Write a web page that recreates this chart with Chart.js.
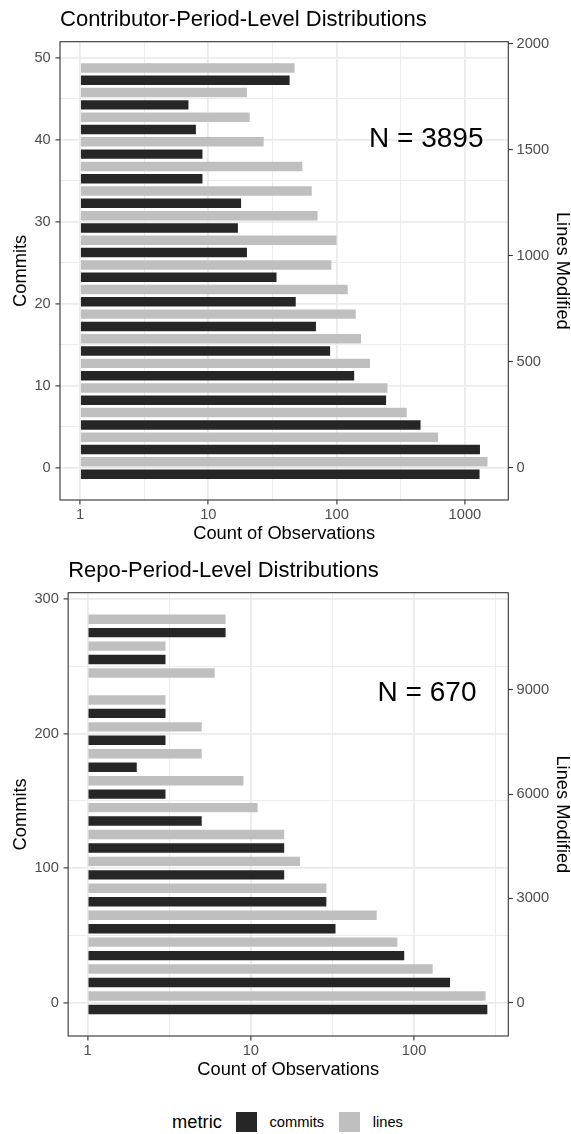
<!DOCTYPE html>
<html lang="en">
<head>
<meta charset="utf-8">
<title>Contributor / Repo Period-Level Distributions</title>
<script src="https://cdn.jsdelivr.net/npm/chart.js@4.4.1/dist/chart.umd.min.js"></script>
<style>
  html, body { margin: 0; padding: 0; background: #ffffff; }
  #page { position: relative; width: 571px; height: 1134px; overflow: hidden;
          font-family: "Liberation Sans", Arial, Helvetica, sans-serif; }
  #topChart { position: absolute; left: 0; top: 0; }
  #bottomChart { position: absolute; left: 0; top: 551px; }
  #legend { position: absolute; left: 2px; top: 1104px; width: 571px; height: 36px;
            display: flex; justify-content: center; align-items: center; }
  #legend .title { font-size: 18.3px; color: #000; margin-right: 14px; }
  #legend .key { width: 20.7px; height: 20.7px; margin-right: 13px; }
  #legend .label { font-size: 14.67px; color: #000; margin-right: 15px; }
  #legend .label:last-child { margin-right: 0; }
</style>
</head>
<body>
<div id="page">
  <canvas id="topChart" width="571" height="551"></canvas>
  <canvas id="bottomChart" width="571" height="536"></canvas>
  <div id="legend"></div>
</div>
<script>
const FONT = '"Liberation Sans", Arial, Helvetica, sans-serif';
const COMMITS_COLOR = '#262626';
const LINES_COLOR = '#BFBFBF';
const TICK_TEXT = '#4D4D4D';
const BORDER = '#333333';
const GRID = '#EBEBEB';
const LINES_PER_COMMIT = 38.7;   // secondary axis: Lines Modified = Commits * factor

const legendTitle = 'metric';
const metricNames = ['commits', 'lines'];

// contributor-period panel, bins of 3 commits
const contribTitle = 'Contributor-Period-Level Distributions';
const contribN = 3895;
const contribBins = [0, 3, 6, 9, 12, 15, 18, 21, 24, 27, 30, 33, 36, 39, 42, 45, 48];
const contribCommits = [1300, 1310, 451, 243, 137, 89, 69, 48, 34, 20, 17, 18, 9, 9, 8, 7, 43];
const contribLines = [1500, 617, 352, 249, 182, 155, 141, 122, 91, 100, 71, 64, 54, 27, 21, 20, 47];
const contribCommitTicks = [0, 10, 20, 30, 40, 50];
const contribCommitMinor = [5, 15, 25, 35, 45];
const contribLineTicks = [0, 500, 1000, 1500, 2000];
const contribCountTicks = [1, 10, 100, 1000];
const contribCountMinor = [3.162, 31.62, 316.2];

// repo-period panel, bins of 20 commits
const repoTitle = 'Repo-Period-Level Distributions';
const repoN = 670;
const repoBins = [0, 20, 40, 60, 80, 100, 120, 140, 160, 180, 200, 220, 240, 260, 280];
const repoCommits = [281, 166, 87, 33, 29, 16, 16, 5, 3, 2, 3, 3, 0, 3, 7];
const repoLines = [274, 130, 79, 59, 29, 20, 16, 11, 9, 5, 5, 3, 6, 3, 7];
const repoCommitTicks = [0, 100, 200, 300];
const repoCommitMinor = [50, 150, 250];
const repoLineTicks = [0, 3000, 6000, 9000];
const repoCountTicks = [1, 10, 100];
const repoCountMinor = [3.162, 31.62, 316.2];

Chart.defaults.font.family = FONT;
Chart.defaults.color = TICK_TEXT;

// dodge the two metrics inside each bin (commits below, lines above)
function dodge(bins, counts, side) {
    const w = bins[1] - bins[0];
    return bins.map((b, i) => ({ y: b + side * w / 4, x: counts[i] > 0 ? counts[i] : null }));
}

function setTicks(major, minor) {
    return scale => {
        scale.ticks = major.concat(minor).sort((a, b) => a - b).map(v => ({ value: v }));
    };
}

function gridStyle(major) {
    const isMajor = c => c.tick && major.includes(c.tick.value);
    return {
        color: GRID,
        lineWidth: c => isMajor(c) ? 1.8 : 0.9,
        tickColor: c => isMajor(c) ? BORDER : 'rgba(0,0,0,0)',
        tickLength: 4.6,
        tickWidth: 1.1,
        offset: false
    };
}

// panel border + "N = ..." note, ggplot style
const panelDecor = {
    id: 'panelDecor',
    afterDatasetsDraw(chart, args, opts) {
        const { ctx, chartArea: a, scales } = chart;
        ctx.save();
        ctx.font = '28px ' + FONT;
        ctx.fillStyle = '#000000';
        ctx.textAlign = 'center';
        ctx.textBaseline = 'middle';
        ctx.fillText(opts.label, scales.x.getPixelForValue(opts.at[0]), scales.y.getPixelForValue(opts.at[1]));
        ctx.strokeStyle = BORDER;
        ctx.lineWidth = 1.1;
        ctx.strokeRect(a.left, a.top, a.width, a.height);
        ctx.restore();
    }
};

function drawPanel(canvasId, p) {
    const axisTitle = text => ({
        display: true, text: text, color: '#000000',
        font: { size: 18.3, lineHeight: 1 }, padding: { top: 0, bottom: 0 }
    });
    return new Chart(document.getElementById(canvasId), {
        type: 'bar',
        data: {
            datasets: [
                { label: metricNames[0], data: dodge(p.bins, p.commits, -1), backgroundColor: COMMITS_COLOR },
                { label: metricNames[1], data: dodge(p.bins, p.lines, 1), backgroundColor: LINES_COLOR }
            ]
        },
        plugins: [panelDecor],
        options: {
            indexAxis: 'y',
            responsive: false,
            animation: false,
            devicePixelRatio: 1,
            layout: { padding: { top: 0, left: 11.4, right: 0, bottom: 8.3 } },
            datasets: {
                bar: { base: 1, grouped: false, categoryPercentage: 1, barPercentage: p.barPct, borderWidth: 0 }
            },
            plugins: {
                legend: { display: false },
                tooltip: { enabled: false },
                title: {
                    display: true, text: p.title, align: 'start', fullSize: false,
                    color: '#000000', font: { size: 22, weight: 'normal' },
                    padding: { top: 6.8, bottom: 8.5 }
                },
                panelDecor: { label: 'N = ' + p.n, at: p.noteAt }
            },
            scales: {
                x: {
                    type: 'logarithmic', min: p.countRange[0], max: p.countRange[1], bounds: 'data',
                    afterBuildTicks: setTicks(p.countTicks, p.countMinor),
                    ticks: {
                        autoSkip: false, maxRotation: 0, padding: 1.1, color: TICK_TEXT, font: { size: 14.67 },
                        callback: v => p.countTicks.includes(v) ? String(v) : ''
                    },
                    grid: gridStyle(p.countTicks),
                    border: { display: false },
                    title: axisTitle('Count of Observations')
                },
                y: {
                    type: 'linear', position: 'left', min: p.commitRange[0], max: p.commitRange[1],
                    bounds: 'data', offset: false,
                    afterBuildTicks: setTicks(p.commitTicks, p.commitMinor),
                    ticks: {
                        padding: 4.7, color: TICK_TEXT, font: { size: 14.67 },
                        callback: v => p.commitTicks.includes(v) ? String(v) : ''
                    },
                    grid: gridStyle(p.commitTicks),
                    border: { display: false },
                    title: axisTitle('Commits')
                },
                y2: {
                    type: 'linear', position: 'right',
                    min: p.commitRange[0] * LINES_PER_COMMIT, max: p.commitRange[1] * LINES_PER_COMMIT,
                    bounds: 'data', offset: false,
                    afterBuildTicks: setTicks(p.lineTicks, []),
                    ticks: { padding: 3.6, color: TICK_TEXT, font: { size: 14.67 }, callback: v => String(v) },
                    grid: {
                        drawOnChartArea: false, offset: false,
                        tickColor: BORDER, tickLength: 4.6, tickWidth: 1.1
                    },
                    border: { display: false },
                    title: axisTitle('Lines Modified')
                }
            }
        }
    });
}

drawPanel('topChart', {
    title: contribTitle, n: contribN, noteAt: [500, 40], barPct: 0.77,
    bins: contribBins, commits: contribCommits, lines: contribLines,
    commitRange: [-3.9, 51.95], countRange: [0.698, 2178],
    commitTicks: contribCommitTicks, commitMinor: contribCommitMinor,
    lineTicks: contribLineTicks, countTicks: contribCountTicks, countMinor: contribCountMinor
});

drawPanel('bottomChart', {
    title: repoTitle, n: repoN, noteAt: [120, 230], barPct: 0.70,
    bins: repoBins, commits: repoCommits, lines: repoLines,
    commitRange: [-24.75, 304.7], countRange: [0.760, 377.6],
    commitTicks: repoCommitTicks, commitMinor: repoCommitMinor,
    lineTicks: repoLineTicks, countTicks: repoCountTicks, countMinor: repoCountMinor
});

// shared legend at the bottom
const legend = document.getElementById('legend');
legend.innerHTML = '<span class="title">' + legendTitle + '</span>';
[COMMITS_COLOR, LINES_COLOR].forEach((c, i) => {
    legend.innerHTML += '<span class="key" style="background:' + c + '"></span>' +
        '<span class="label">' + metricNames[i] + '</span>';
});
</script>
</body>
</html>
